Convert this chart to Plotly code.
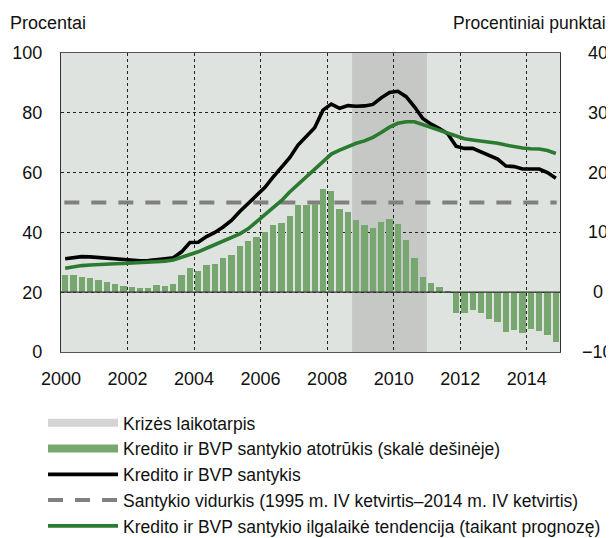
import plotly.graph_objects as go

# ---- Data (quarterly, 2000Q1 - 2014Q4) ----
years = list(range(2000, 2015))
quarters = [(y, q) for y in years for q in range(1, 5)]

# Credit-to-GDP gap, percentage points (right axis)
credit_gap = [2.9, 2.9, 2.6, 2.3, 2.1, 1.7, 1.4, 1.1, 0.95, 0.7, 0.7, 1.2,
              1.1, 1.4, 2.9, 4.1, 3.5, 4.6, 4.8, 5.8, 6.2, 7.7, 8.6, 9.3,
              10.1, 11.3, 11.6, 12.7, 14.5, 14.6, 14.8, 17.3, 17.0, 13.9, 13.4, 12.0,
              11.3, 10.8, 11.7, 12.2, 11.4, 8.8, 5.7, 2.5, 1.6, 0.8, 0.05, -3.5,
              -3.5, -2.9, -3.5, -4.5, -5.0, -6.7, -6.4, -6.9, -6.1, -6.5, -7.1, -8.4]

# Credit-to-GDP ratio, percent (left axis)
credit_ratio = [31.2, 31.6, 31.9, 31.8, 31.6, 31.3, 31.0, 30.9, 30.7, 30.5, 30.6, 31.0,
                31.2, 31.5, 33.5, 36.6, 36.7, 38.6, 40.0, 41.8, 44.0, 47.0, 49.8, 52.2,
                55.0, 58.5, 61.6, 65.0, 69.2, 72.0, 75.0, 80.9, 82.9, 81.5, 82.4, 82.2,
                82.3, 82.8, 85.0, 86.8, 87.2, 85.4, 82.0, 78.1, 76.2, 74.7, 73.0, 68.8,
                68.1, 68.1, 66.8, 65.6, 64.5, 62.2, 62.0, 61.2, 61.3, 61.2, 60.0, 58.1]

# Long-term trend of credit-to-GDP ratio, percent (left axis)
credit_trend = [28.0, 28.5, 28.9, 29.1, 29.3, 29.4, 29.5, 29.6, 29.7, 29.8, 29.9, 30.1,
                30.4, 30.8, 31.6, 32.5, 33.5, 34.7, 35.9, 36.9, 38.0, 39.5, 41.2, 43.5,
                45.8, 48.2, 50.6, 53.5, 56.0, 58.5, 61.0, 63.6, 66.2, 67.5, 68.7, 69.8,
                70.6, 71.8, 73.4, 75.2, 76.5, 77.0, 77.0, 76.0, 75.0, 74.2, 73.2, 72.1,
                71.3, 70.9, 70.6, 70.3, 69.8, 69.2, 68.6, 68.2, 68.0, 67.9, 67.4, 66.4]

ratio_mean = 50  # mean 1995Q4-2014Q4
crisis_start, crisis_end = 2008.75, 2011.0

names = ["Krizės laikotarpis",
         "Kredito ir BVP santykio atotrūkis (skalė dešinėje)",
         "Kredito ir BVP santykis",
         "Santykio vidurkis (1995 m. IV ketvirtis–2014 m. IV ketvirtis)",
         "Kredito ir BVP santykio ilgalaikė tendencija (taikant prognozę)"]

x_tickvals = list(range(2000, 2015, 2))
left_ticks = [0, 20, 40, 60, 80, 100]
right_ticks = [-10, 0, 10, 20, 30, 40]

# ---- Styling ----
FONT = "Liberation Sans, Arial, sans-serif"
BG = "#dfe3df"
CRISIS = "#c6c8c6"
CRISIS_LEG = "#d4d4d4"
BAR = "#78a66f"
BLACK = "#000000"
GREEN = "#2a7a30"
DASH = "#808080"
TXT = "#111111"

xq = [y + (q - 0.5) / 4 for (y, q) in quarters]

fig = go.Figure()

fig.add_trace(go.Scatter(x=[None], y=[None], mode="lines", name=names[0],
                         line=dict(color=CRISIS_LEG, width=8), showlegend=True))
fig.add_trace(go.Bar(x=xq, y=credit_gap, yaxis="y2", marker=dict(color=BAR, line=dict(width=0)),
                     width=0.19, showlegend=False, name=names[1]))
fig.add_trace(go.Scatter(x=[None], y=[None], mode="lines", name=names[1],
                         line=dict(color=BAR, width=8), showlegend=True))
fig.add_trace(go.Scatter(x=[2000.1, 2014.9], y=[ratio_mean, ratio_mean], mode="lines",
                         line=dict(color=DASH, width=4, dash="15px,12px"),
                         showlegend=False, name=names[3]))
fig.add_trace(go.Scatter(x=xq, y=credit_ratio, mode="lines", name=names[2],
                         line=dict(color=BLACK, width=3.6)))
fig.add_trace(go.Scatter(x=[None], y=[None], mode="lines", name=names[3],
                         line=dict(color=DASH, width=4, dash="15px,12px")))
fig.add_trace(go.Scatter(x=xq, y=credit_trend, mode="lines", name=names[4],
                         line=dict(color=GREEN, width=3.6)))

fig.add_shape(type="rect", xref="x", yref="paper", x0=crisis_start, x1=crisis_end,
              y0=0, y1=1, fillcolor=CRISIS, line=dict(width=0), layer="below")
fig.add_shape(type="line", xref="paper", yref="y2", x0=0, x1=1, y0=0, y1=0,
              line=dict(color="#333333", width=1.2), layer="above")

# right-axis tick labels, centred like the original
right_labels = [dict(text=(f"\u2212{abs(v)}" if v < 0 else str(v)), xref="paper", yref="y2",
                     x=1.076, y=v, xanchor="center", yanchor="middle", showarrow=False,
                     font=dict(size=18, color=TXT)) for v in right_ticks]

# page body has an 8px margin: the figure is sized and offset to compensate
fig.update_layout(
    width=606, height=530,
    margin=dict(l=53, r=54, t=45, b=186, autoexpand=False),
    paper_bgcolor="white", plot_bgcolor=BG,
    font=dict(family=FONT, size=18, color=TXT),
    bargap=0,
    xaxis=dict(range=[2000, 2015], tickvals=x_tickvals, ticks="",
               showgrid=True, gridcolor="#222222", griddash="dot", gridwidth=1,
               showline=True, linecolor="#555555", linewidth=1, mirror=True,
               ticklabelstandoff=10, zeroline=False, automargin=False,
               tickfont=dict(size=18)),
    yaxis=dict(range=[0, 100], tickvals=left_ticks, ticks="",
               showgrid=True, gridcolor="#222222", griddash="dot", gridwidth=1,
               showline=True, linecolor="#333333", linewidth=1.2, automargin=False,
               zeroline=False, ticklabelstandoff=14, tickfont=dict(size=18)),
    yaxis2=dict(range=[-10, 40], tickvals=right_ticks, overlaying="y", side="right",
                showgrid=False, ticks="", showline=True, linecolor="#333333", linewidth=1.2,
                zeroline=False, showticklabels=False, automargin=False),
    legend=dict(orientation="v", xref="container", yref="container",
                x=0.0578, y=0.251, xanchor="left", yanchor="top",
                font=dict(size=17.5), itemwidth=70, tracegroupgap=0,
                bgcolor="rgba(0,0,0,0)", traceorder="normal"),
    annotations=[
        dict(text="Procentai", xref="paper", yref="paper", x=-0.106, y=1.102,
             xanchor="left", yanchor="middle", showarrow=False, font=dict(size=18)),
        dict(text="Procentiniai punktai", xref="paper", yref="paper", x=1.096, y=1.102,
             xanchor="right", yanchor="middle", showarrow=False, font=dict(size=17.5)),
    ] + right_labels,
)

fig.write_html("out.html")
